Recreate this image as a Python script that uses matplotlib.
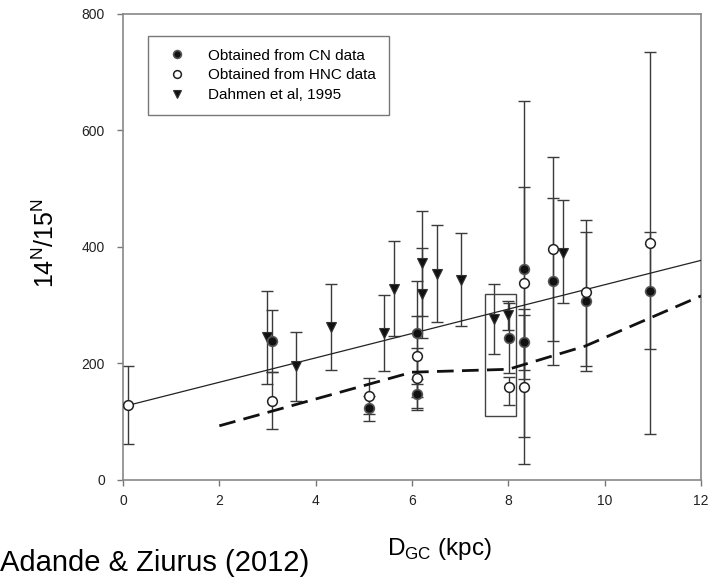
import matplotlib.pyplot as plt
import numpy as np
from matplotlib.patches import Rectangle

plt.rcParams['font.family'] = ['Liberation Sans', 'DejaVu Sans']

# CN data (filled circles): x, value, lower and upper end of error bar
cn_x = [3.10, 5.11, 6.11, 6.11, 8.01, 8.32, 8.32, 8.93, 9.62, 10.93]
cn_y = [238, 123, 253, 147, 244, 362, 236, 341, 307, 325]
cn_lo = [185, 101, 165, 120, 184, 74, 188, 198, 187, 225]
cn_hi = [291, 145, 341, 174, 304, 650, 284, 484, 426, 426]

# HNC data (open circles)
hnc_x = [0.10, 3.10, 5.11, 6.11, 6.11, 8.01, 8.32, 8.32, 8.93, 9.62, 10.93]
hnc_y = [128, 136, 144, 212, 175, 160, 338, 160, 396, 322, 407]
hnc_lo = [62, 87, 113, 143, 124, 128, 173, 27, 238, 196, 79]
hnc_hi = [196, 185, 175, 281, 226, 177, 503, 293, 554, 447, 735]

# Dahmen et al. 1995 (triangles)
dah_x = [2.99, 3.60, 4.31, 5.41, 5.62, 6.21, 6.21, 6.51, 7.01, 7.71, 8.00, 9.14]
dah_y = [245, 196, 262, 253, 328, 372, 320, 353, 344, 277, 283, 390]
dah_lo = [164, 136, 189, 187, 247, 282, 243, 271, 264, 216, 258, 303]
dah_hi = [324, 254, 337, 317, 411, 462, 398, 438, 424, 337, 308, 481]

# fitted gradient (solid) and model curve (dashed)
fit_x = [0.1, 12]
fit_y = [128, 377]
model_x = [2, 6, 8, 9.6, 12]
model_y = [93, 185, 190, 230, 316]

# box around the local ISM region
box_x = [7.52, 8.15]
box_y = [110, 320]

fig = plt.figure(figsize=(7.11, 5.79), dpi=100)
ax = fig.add_axes([0.173, 0.171, 0.813, 0.805])

def draw_err(x, y, lo, hi):
    y = np.array(y)
    yerr = [y - np.array(lo), np.array(hi) - y]
    ax.errorbar(x, y, yerr=yerr, fmt='none', ecolor='#3a3a3a', elinewidth=1.0,
                capsize=4, capthick=1.0, zorder=2)

draw_err(cn_x, cn_y, cn_lo, cn_hi)
draw_err(hnc_x, hnc_y, hnc_lo, hnc_hi)
draw_err(dah_x, dah_y, dah_lo, dah_hi)

ax.plot(fit_x, fit_y, color='#222222', lw=0.9, zorder=3)
ax.plot(model_x, model_y, color='#111111', lw=2.0, dashes=(6, 3), zorder=3)
ax.add_patch(Rectangle((box_x[0], box_y[0]), box_x[1] - box_x[0], box_y[1] - box_y[0],
                       fill=False, edgecolor='#444444', lw=1.0, zorder=2))

h1, = ax.plot(cn_x, cn_y, 'o', ms=7, mfc='#111111', mec='#555555', mew=1.2,
              zorder=5, label='Obtained from CN data')
h2, = ax.plot(hnc_x, hnc_y, 'o', ms=7, mfc='white', mec='#222222', mew=1.1,
              zorder=5, label='Obtained from HNC data')
h3, = ax.plot(dah_x, dah_y, 'v', ms=7, mfc='#111111', mec='#333333', mew=0.8,
              zorder=4, label='Dahmen et al, 1995')

ax.set_xlim(0, 12)
ax.set_ylim(0, 800)
ax.set_xticks(range(0, 13, 2))
ax.set_yticks(range(0, 801, 200))
ax.tick_params(direction='out', length=4, width=1, color='#777777',
               labelsize=10, labelcolor='#222222')
ax.tick_params(axis='y', pad=9)
ax.tick_params(axis='x', pad=6)
for s in ax.spines.values():
    s.set_color('#888888')
    s.set_linewidth(1.2)

leg = ax.legend(handles=[h1, h2, h3], loc='upper left', bbox_to_anchor=(0.043, 0.953),
                fontsize=11, frameon=True, fancybox=False, borderpad=0.85,
                handletextpad=1.0, labelspacing=0.37, handlelength=2.1, markerscale=0.8,
                borderaxespad=0.0)
leg.get_frame().set_edgecolor('#555555')
leg.get_frame().set_linewidth(1.0)

fig.text(0.064, 0.58, r'14$^{\mathregular{N}}$/15$^{\mathregular{N}}$', fontsize=18,
         rotation=90, ha='center', va='center')
fig.text(0.618, 0.052, r'D$_{\mathregular{GC}}$ (kpc)', fontsize=17.5, ha='center', va='center')
fig.text(0.0, 0.027, 'Adande & Ziurus (2012)', fontsize=21, ha='left', va='center')

plt.savefig('out.png', dpi=100)
